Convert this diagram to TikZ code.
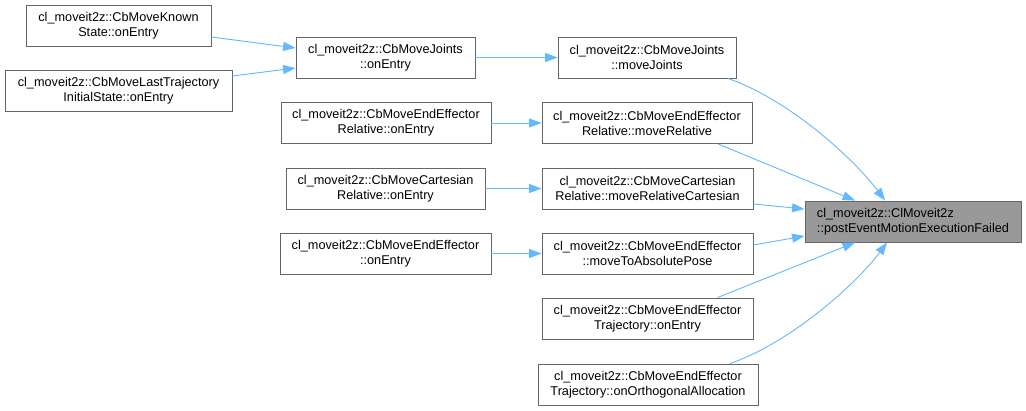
\documentclass[tikz,border=0pt]{standalone}
\usepackage{fontspec}
\setmainfont{Liberation Sans}
\usetikzlibrary{arrows.meta}
\definecolor{edgeblue}{HTML}{63B8FF}
\definecolor{boxgray}{HTML}{666666}
\definecolor{targetfill}{HTML}{999999}
\begin{document}
\begin{tikzpicture}[x=1pt,y=-1pt,
  fn/.style={draw=boxgray, line width=0.9pt, fill=white, minimum height=41pt,
    inner xsep=0pt, inner ysep=0pt, align=center,
    font=\fontsize{12.7}{15}\selectfont, text=black},
  tgt/.style={fn, fill=targetfill, align=left},
  link/.style={draw=edgeblue, line width=0.9pt, -{Triangle[length=12.5pt,width=9pt]}}]
\useasboundingbox[fill=white] (0,0) rectangle (1026,410);
% column 1
\node[fn, minimum width=185pt] (known) at (118.5,25.5) {cl\_moveit2z::CbMoveKnown\\State::onEntry};
\node[fn, minimum width=227pt] (last) at (118.5,90.5) {cl\_moveit2z::CbMoveLastTrajectory\\InitialState::onEntry};
% column 2
\node[fn, minimum width=179pt] (jent) at (385.5,57.5) {cl\_moveit2z::CbMoveJoints\\::onEntry};
\node[fn, minimum width=210pt] (eren) at (386,123) {cl\_moveit2z::CbMoveEndEffector\\Relative::onEntry};
\node[fn, minimum width=199pt] (cren) at (385.5,188.5) {cl\_moveit2z::CbMoveCartesian\\Relative::onEntry};
\node[fn, minimum width=211pt] (een) at (385.5,253.5) {cl\_moveit2z::CbMoveEndEffector\\::onEntry};
% column 3
\node[fn, minimum width=178pt] (jmove) at (647,57.5) {cl\_moveit2z::CbMoveJoints\\::moveJoints};
\node[fn, minimum width=210pt] (ermove) at (647,123) {cl\_moveit2z::CbMoveEndEffector\\Relative::moveRelative};
\node[fn, minimum width=211pt] (crmove) at (647.5,188.5) {cl\_moveit2z::CbMoveCartesian\\Relative::moveRelativeCartesian};
\node[fn, minimum width=211pt] (eemove) at (647.5,253.5) {cl\_moveit2z::CbMoveEndEffector\\::moveToAbsolutePose};
\node[fn, minimum width=211pt] (tren) at (647.5,318.5) {cl\_moveit2z::CbMoveEndEffector\\Trajectory::onEntry};
\node[fn, minimum width=220pt] (trorth) at (648,384.5) {cl\_moveit2z::CbMoveEndEffector\\Trajectory::onOrthogonalAllocation};
% target
\node[tgt, minimum width=216pt] (target) at (913,221.5) {cl\_moveit2z::ClMoveit2z\\::postEventMotionExecutionFailed};
% edges
\draw[link] ([yshift=-11.5pt]known.east) -- ([yshift=9.5pt]jent.west);
\draw[link] ([yshift=14.5pt]last.east) -- ([yshift=-10.5pt]jent.west);
\draw[link] (jent) -- (jmove);
\draw[link] (eren) -- (ermove);
\draw[link] (cren) -- (crmove);
\draw[link] (een) -- (eemove);
\draw[link] ([xshift=81pt]jmove.south) .. controls (790,100) and (855,160) .. ([xshift=-28pt]target.north);
\draw[link] ([xshift=71pt]ermove.south) -- ([xshift=-58pt]target.north);
\draw[link] ([yshift=-15.5pt]crmove.east) -- ([yshift=12.5pt]target.west);
\draw[link] ([yshift=8.5pt]eemove.east) -- ([yshift=-14.5pt]target.west);
\draw[link] ([xshift=70pt]tren.north) -- ([xshift=-58pt]target.south);
\draw[link] ([xshift=82pt]trorth.north) .. controls (792,342) and (857,283) .. ([xshift=-26pt]target.south);
\end{tikzpicture}
\end{document}
